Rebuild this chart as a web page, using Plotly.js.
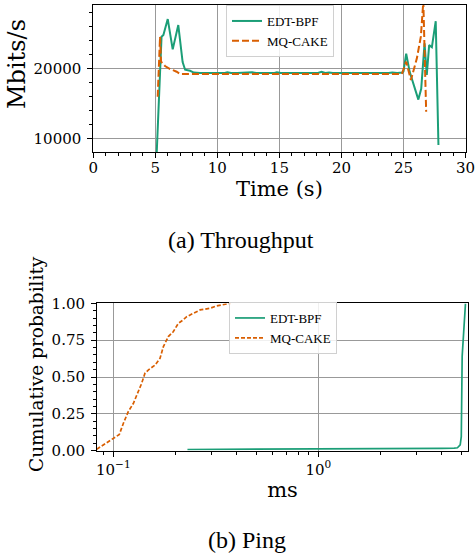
<!DOCTYPE html>
<html>
<head>
<meta charset="utf-8">
<script src="https://cdn.plot.ly/plotly-3.0.1.min.js"></script>
<style>html,body{margin:0;padding:0;background:#fff;}#chart{width:475px;height:554px;}</style>
</head>
<body>
<div id="chart"></div>
<script>
// ---- Data: (a) Throughput ----
const seriesNames = ["EDT-BPF", "MQ-CAKE"];
const edtTime = [5.1, 5.5, 5.65, 6.0, 6.4, 6.85, 7.2, 7.4, 7.8, 8.1, 8.6, 9.1, 9.6, 10.1, 10.6, 10.8, 11.1, 11.6, 12.1, 12.6, 12.8, 13.1, 13.6, 14.1, 14.6, 14.8, 15.1, 15.6, 16.1, 16.6, 17.1, 17.6, 18.1, 18.4, 18.7, 19.0, 19.3, 19.8, 20.3, 20.8, 21.3, 21.8, 22.3, 22.8, 23.3, 23.8, 24.1, 24.5, 24.9, 25.0, 25.22, 25.5, 26.2, 26.43, 26.7, 26.88, 27.07, 27.29, 27.6, 27.82];
const edtRate = [7500, 24500, 24750, 27000, 22700, 26150, 20900, 19800, 19650, 19400, 19350, 19330, 19350, 19330, 19350, 19450, 19340, 19330, 19350, 19340, 19450, 19340, 19330, 19350, 19340, 19450, 19350, 19330, 19340, 19350, 19330, 19340, 19350, 19500, 19340, 19420, 19340, 19350, 19330, 19340, 19350, 19330, 19340, 19350, 19330, 19340, 19420, 19350, 19400, 19550, 22100, 19500, 15550, 17100, 23550, 19050, 23300, 23000, 26700, 9100];
const cakeTime = [5.19, 5.38, 5.46, 5.78, 6.19, 6.72, 7.0, 7.5, 8.0, 8.5, 9.0, 9.5, 10.0, 10.5, 11.0, 11.5, 12.0, 12.5, 13.0, 13.5, 14.0, 14.5, 15.0, 15.5, 16.0, 16.5, 17.0, 17.5, 18.0, 18.5, 19.0, 19.5, 20.0, 20.5, 21.0, 21.5, 22.0, 22.5, 23.0, 23.5, 24.0, 24.5, 24.87, 25.22, 25.6, 26.08, 26.4, 26.6, 26.83];
const cakeRate = [15950, 24500, 20950, 20330, 19900, 19520, 19200, 19190, 19200, 19190, 19200, 19190, 19200, 19190, 19200, 19190, 19200, 19190, 19200, 19190, 19200, 19190, 19200, 19190, 19200, 19190, 19200, 19190, 19200, 19190, 19200, 19190, 19200, 19190, 19200, 19190, 19200, 19190, 19200, 19190, 19200, 19190, 19200, 20950, 18340, 21420, 24500, 29500, 13830];

// ---- Data: (b) Ping CDF ----
const edtPingMs = [0.23, 0.5, 1.0, 2.0, 3.0, 4.0, 4.6, 4.77, 4.92, 4.98, 5.03, 5.1, 5.16, 5.22];
const edtPingCdf = [0.008, 0.009, 0.01, 0.012, 0.014, 0.016, 0.018, 0.02, 0.039, 0.095, 0.64, 0.8, 0.909, 0.998];
const cakePingMs = [0.083, 0.0894, 0.1, 0.107, 0.112, 0.1183, 0.1252, 0.1325, 0.1375, 0.1427, 0.148, 0.1598, 0.169, 0.1755, 0.1855, 0.196, 0.2075, 0.219, 0.228, 0.2455, 0.265, 0.296, 0.319, 0.357, 0.375];
const cakePingCdf = [0.01, 0.039, 0.08, 0.11, 0.186, 0.265, 0.32, 0.40, 0.457, 0.525, 0.547, 0.581, 0.627, 0.706, 0.774, 0.807, 0.864, 0.887, 0.909, 0.932, 0.955, 0.966, 0.982, 0.995, 1.0];

const xTicksTop = [0, 5, 10, 15, 20, 25, 30];
const yTicksTop = [10000, 20000];
const yTickTextTop = ["10000", "20000"];
const yTicksBot = [0, 0.25, 0.5, 0.75, 1.0];
const xTicksBot = [0.1, 1];
const xTickTextBot = ["10<sup>\u22121</sup>", "10<sup>0</sup>"];
const xMinorBot = [0.09, 0.2, 0.3, 0.4, 0.5, 0.6, 0.7, 0.8, 0.9, 2, 3, 4, 5];
const captions = ["(a) Throughput", "(b) Ping"];
const axisTitles = {xTop: "Time (s)", yTop: "Mbits/s", xBot: "ms", yBot: "Cumulative probability"};

const GREEN = "#1b9e77", ORANGE = "#d95f02";
const SERIF = "DejaVu Serif, serif";
const TIMES = "Liberation Serif, Times New Roman, serif";

const traces = [
  {x: edtTime, y: edtRate, name: seriesNames[0], type: "scatter", mode: "lines", xaxis: "x", yaxis: "y", legend: "legend",
   line: {color: GREEN, width: 2}},
  {x: cakeTime, y: cakeRate, name: seriesNames[1], type: "scatter", mode: "lines", xaxis: "x", yaxis: "y", legend: "legend",
   line: {color: ORANGE, width: 2, dash: "7px,3px"}},
  {x: edtPingMs, y: edtPingCdf, name: seriesNames[0], type: "scatter", mode: "lines", xaxis: "x2", yaxis: "y2", legend: "legend2",
   line: {color: GREEN, width: 1.7}},
  {x: cakePingMs, y: cakePingCdf, name: seriesNames[1], type: "scatter", mode: "lines", xaxis: "x2", yaxis: "y2", legend: "legend2",
   line: {color: ORANGE, width: 1.7, dash: "4px,2px"}}
];

const W = 475, H = 554;
const px = v => v / W;
const py = v => (H - v) / H;

const common = {
  showline: true, mirror: true, linecolor: "#000", linewidth: 1,
  ticks: "outside", ticklen: 5, tickwidth: 1, tickcolor: "#000",
  showgrid: true, gridcolor: "#999999", gridwidth: 1, zeroline: false,
  ticklabeloverflow: "allow",
  tickfont: {family: SERIF, size: 15, color: "#000"}
};

const layout = {
  width: W, height: H,
  margin: {l: 0, r: 0, t: 0, b: 0},
  paper_bgcolor: "#fff", plot_bgcolor: "#fff",
  showlegend: true,
  xaxis: Object.assign({}, common, {
    domain: [px(93.3), px(465.5)], anchor: "y", range: [0, 30],
    tickmode: "array", tickvals: xTicksTop, ticklabelstandoff: -3,
    minor: {dtick: 1, tick0: 0, ticks: "outside", ticklen: 3, tickcolor: "#000", showgrid: false},
    title: {text: axisTitles.xTop, font: {family: SERIF, size: 21, color: "#000"}, standoff: 2}
  }),
  yaxis: Object.assign({}, common, {
    domain: [py(152), py(4.7)], anchor: "x", range: [8100, 29050],
    tickmode: "array", tickvals: yTicksTop, ticktext: yTickTextTop, ticklabelstandoff: 3,
    minor: {dtick: 2000, tick0: 0, ticks: "outside", ticklen: 3, tickcolor: "#000", showgrid: false}
  }),
  xaxis2: Object.assign({}, common, {
    domain: [px(97), px(468)], anchor: "y2", type: "log", range: [-1.0795, 0.730],
    tickmode: "array", tickvals: xTicksBot, ticktext: xTickTextBot,
    minor: {tickmode: "array", tickvals: xMinorBot, ticks: "outside", ticklen: 3, tickcolor: "#000", showgrid: false},
    title: {text: axisTitles.xBot, font: {family: SERIF, size: 21, color: "#000"}, standoff: 4}
  }),
  yaxis2: Object.assign({}, common, {
    domain: [py(450.7), py(303.3)], anchor: "x2", range: [0, 1],
    tickmode: "array", tickvals: yTicksBot, tickformat: ".2f", ticklabelstandoff: 3,
    minor: {dtick: 0.05, tick0: 0, ticks: "outside", ticklen: 3, tickcolor: "#000", showgrid: false}
  }),
  legend: {x: px(226), y: py(5), xanchor: "left", yanchor: "top",
    bgcolor: "rgba(255,255,255,0.85)", bordercolor: "#d0d0d0", borderwidth: 1,
    font: {family: TIMES, size: 13, color: "#000"}, tracegroupgap: 0},
  legend2: {x: px(229), y: py(302), xanchor: "left", yanchor: "top",
    bgcolor: "rgba(255,255,255,0.85)", bordercolor: "#d0d0d0", borderwidth: 1,
    font: {family: TIMES, size: 13, color: "#000"}, tracegroupgap: 0},
  annotations: [
    {text: axisTitles.yTop, textangle: -90, x: px(17), y: py(64), xref: "paper", yref: "paper",
     xanchor: "center", yanchor: "middle",
     showarrow: false, font: {family: SERIF, size: 24, color: "#000"}},
    {text: axisTitles.yBot, textangle: -90, x: px(36), y: py(364), xref: "paper", yref: "paper",
     xanchor: "center", yanchor: "middle",
     showarrow: false, font: {family: SERIF, size: 18.5, color: "#000"}},
    {text: captions[0], x: px(241), y: py(240), xref: "paper", yref: "paper",
     xanchor: "center", yanchor: "middle",
     showarrow: false, font: {family: TIMES, size: 24, color: "#000"}},
    {text: captions[1], x: px(247), y: py(540), xref: "paper", yref: "paper",
     xanchor: "center", yanchor: "middle",
     showarrow: false, font: {family: TIMES, size: 24, color: "#000"}}
  ]
};

Plotly.newPlot("chart", traces, layout, {displayModeBar: false, staticPlot: true});
</script>
</body>
</html>
